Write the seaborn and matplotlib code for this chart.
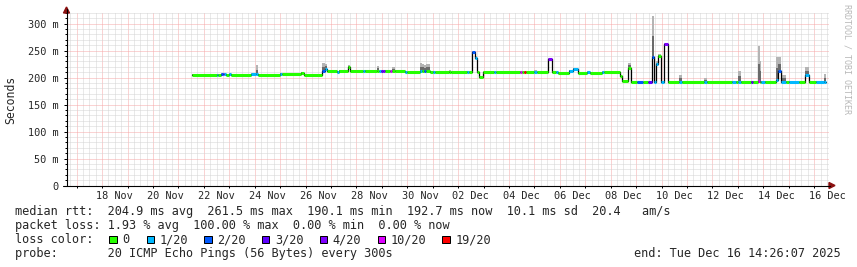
import numpy as np
import pandas as pd
import matplotlib
matplotlib.use("Agg")
import matplotlib.pyplot as plt
import matplotlib.dates as mdates
from matplotlib.ticker import MultipleLocator, FuncFormatter
from matplotlib.patches import Rectangle, Polygon
from matplotlib.lines import Line2D
import seaborn as sns

# ---------------- data ----------------
sample_time = [
    "2025-11-21 13:00", "2025-11-22 12:00", "2025-11-22 13:00", "2025-11-22 16:30",
    "2025-11-22 18:00", "2025-11-22 19:00", "2025-11-22 21:00", "2025-11-23 00:00",
    "2025-11-23 02:00", "2025-11-23 21:00", "2025-11-24 01:00", "2025-11-24 03:00",
    "2025-11-25 00:00", "2025-11-25 02:00", "2025-11-25 20:00", "2025-11-25 23:00",
    "2025-11-26 16:00", "2025-11-26 18:00", "2025-11-26 20:00", "2025-11-27 06:00",
    "2025-11-27 08:00", "2025-11-27 16:00", "2025-11-27 18:00", "2025-11-28 06:00",
    "2025-11-28 08:00", "2025-11-28 19:00", "2025-11-28 21:00", "2025-11-28 23:00",
    "2025-11-29 01:00", "2025-11-29 03:00", "2025-11-29 08:00", "2025-11-29 10:00",
    "2025-11-29 12:00", "2025-11-29 22:00", "2025-11-30 00:00", "2025-11-30 12:00",
    "2025-11-30 14:00", "2025-11-30 16:00", "2025-11-30 18:00", "2025-11-30 21:00",
    "2025-12-01 00:00", "2025-12-01 02:00", "2025-12-01 15:00", "2025-12-01 17:00",
    "2025-12-02 08:00", "2025-12-02 10:00", "2025-12-02 13:30", "2025-12-02 15:30",
    "2025-12-02 18:00", "2025-12-02 20:00", "2025-12-02 23:00", "2025-12-03 10:00",
    "2025-12-03 12:00", "2025-12-04 10:00", "2025-12-04 12:00", "2025-12-04 14:00",
    "2025-12-04 16:00", "2025-12-05 00:00", "2025-12-05 02:00", "2025-12-05 13:00",
    "2025-12-05 17:00", "2025-12-05 20:00", "2025-12-05 22:00", "2025-12-06 09:00",
    "2025-12-06 12:00", "2025-12-06 17:00", "2025-12-07 02:00", "2025-12-07 04:00",
    "2025-12-07 16:00", "2025-12-07 18:00", "2025-12-08 09:00", "2025-12-08 11:00",
    "2025-12-08 16:00", "2025-12-08 19:00", "2025-12-09 01:00", "2025-12-09 06:00",
    "2025-12-09 11:00", "2025-12-09 14:30", "2025-12-09 17:00", "2025-12-09 19:00",
    "2025-12-09 21:00", "2025-12-09 23:30", "2025-12-10 02:00", "2025-12-10 06:00",
    "2025-12-10 16:00", "2025-12-10 19:00", "2025-12-11 16:00", "2025-12-11 19:00",
    "2025-12-12 18:00", "2025-12-12 22:00", "2025-12-13 00:00", "2025-12-13 03:00",
    "2025-12-13 12:00", "2025-12-13 14:00", "2025-12-13 18:30", "2025-12-13 21:00",
    "2025-12-13 22:00", "2025-12-14 02:00", "2025-12-14 12:00", "2025-12-14 14:00",
    "2025-12-14 17:00", "2025-12-14 21:00", "2025-12-15 00:00", "2025-12-15 10:00",
    "2025-12-15 15:30", "2025-12-15 19:00", "2025-12-16 02:00", "2025-12-16 09:00",
]
median_ms = [
    205, 205, 205, 206, 206, 206, 205, 206, 205, 206, 206, 205,
    207, 206, 209, 204, 213, 216, 213, 211, 213, 219, 213, 212,
    213, 213, 212, 212, 212, 213, 212, 213, 213, 211, 210, 213,
    212, 212, 213, 211, 211, 210, 210, 210, 211, 210, 247, 237,
    210, 201, 210, 210, 210, 210, 210, 210, 210, 211, 210, 234,
    210, 210, 209, 213, 216, 209, 210, 209, 210, 210, 203, 193,
    218, 192, 191, 191, 191, 238, 191, 226, 241, 192, 262, 192,
    192, 192, 192, 192, 192, 192, 192, 192, 192, 192, 193, 192,
    192, 192, 195, 213, 192, 192, 192, 191, 204, 192, 192, 192,
]
loss_pings = [
    0, 1, 0, 2, 3, 1, 0, 1, 0, 1, 1, 0,
    1, 0, 0, 0, 2, 1, 0, 1, 0, 0, 0, 1,
    0, 0, 1, 3, 4, 0, 10, 0, 0, 1, 0, 1,
    0, 2, 0, 0, 1, 0, 0, 0, 1, 0, 2, 1,
    0, 0, 0, 1, 0, 10, 0, 19, 0, 1, 0, 4,
    0, 1, 0, 1, 1, 0, 1, 0, 1, 0, 0, 0,
    0, 0, 2, 0, 3, 2, 1, 1, 0, 1, 4, 0,
    1, 0, 1, 0, 1, 0, 1, 0, 3, 0, 10, 0,
    1, 0, 1, 2, 1, 0, 1, 0, 1, 0, 1, 1,
]
smoke_max_ms = [
    207, 207, 207, 208, 208, 208, 207, 208, 207, 208, 224, 207,
    209, 208, 211, 206, 228, 226, 215, 213, 215, 224, 215, 214,
    215, 222, 214, 214, 214, 215, 214, 220, 215, 213, 212, 228,
    226, 224, 226, 213, 213, 212, 214, 212, 213, 212, 249, 240,
    212, 203, 212, 212, 212, 212, 212, 212, 212, 214, 212, 236,
    212, 212, 211, 215, 218, 211, 212, 211, 212, 212, 205, 195,
    228, 194, 193, 193, 193, 315, 193, 230, 243, 194, 264, 194,
    205, 194, 200, 194, 194, 194, 213, 194, 194, 194, 259, 231,
    194, 194, 239, 239, 205, 194, 194, 193, 219, 194, 194, 207,
]
data_end = "2025-12-16 11:00"
view_start = "2025-11-16 14:26:07"
view_end = "2025-12-16 14:26:07"

assert len(sample_time) == len(median_ms) == len(loss_pings) == len(smoke_max_ms)

loss_levels = [0, 1, 2, 3, 4, 10, 19]
loss_labels = ["0", "1/20", "2/20", "3/20", "4/20", "10/20", "19/20"]
loss_colors = ["#26ff00", "#00b8ff", "#0059ff", "#5e00ff", "#7e00ff", "#dd00ff", "#ff0000"]

date_labels = pd.date_range("2025-11-18 12:00", "2025-12-16 12:00", freq="2D")
date_label_text = [d.strftime("%d %b") for d in date_labels]

legend_rtt = "median rtt:  204.9 ms avg  261.5 ms max  190.1 ms min  192.7 ms now  10.1 ms sd  20.4   am/s"
legend_loss = "packet loss: 1.93 % avg  100.00 % max  0.00 % min  0.00 % now"
legend_probe = "probe:       20 ICMP Echo Pings (56 Bytes) every 300s"
legend_end = "end: Tue Dec 16 14:26:07 2025"

# ---------------- style ----------------
sns.set_style("white")
plt.rcParams["font.family"] = ["DejaVu Sans Mono"]
MONO = "DejaVu Sans Mono"

W, H = 857, 267
def fx(px):
    return px / W
def fy(py):
    return 1 - py / H

fig = plt.figure(figsize=(W / 100, H / 100), dpi=100, facecolor="white")
AX_L, AX_R, AX_T, AX_B = 66.5, 829.5, 12.9, 185.5
ax = fig.add_axes([fx(AX_L), fy(AX_B), (AX_R - AX_L) / W, (AX_B - AX_T) / H])
ax.set_facecolor("white")

# ---------------- data prep ----------------
t = mdates.date2num(pd.to_datetime(sample_time).to_numpy())
t_end = mdates.date2num(pd.to_datetime([data_end]).to_numpy())[0]
t_next = np.append(t[1:], t_end)
med = np.array(median_ms, dtype=float)
smk = np.array(smoke_max_ms, dtype=float)
cmap = dict(zip(loss_levels, loss_colors))
seg_colors = [cmap[l] for l in loss_pings]

xs = np.append(t, t_end)
med_s = np.append(med, med[-1])
smk_s = np.append(smk, smk[-1])

# smoke
ax.fill_between(xs, med_s, smk_s, step="post", color="#b4b4b4", lw=0, zorder=2)
ax.fill_between(xs, med_s, med_s + (smk_s - med_s) * 0.5, step="post",
                color="#6a6a6a", lw=0, zorder=2)

# thin black median connector (seaborn)
line_df = pd.DataFrame({"t": xs, "rtt": med_s})
sns.lineplot(data=line_df, x="t", y="rtt", ax=ax, color="black", lw=0.9,
             drawstyle="steps-post", estimator=None, sort=False, zorder=3)

# loss-coloured median
ax.hlines(med, t, t_next, colors=seg_colors, lw=2.2, zorder=4)

# ---------------- axes ----------------
ax.set_xlim(mdates.date2num(pd.Timestamp(view_start)), mdates.date2num(pd.Timestamp(view_end)))
ax.set_ylim(0, 320)
ax.set_xlabel("")
ax.set_ylabel("")

ax.xaxis.set_major_locator(mdates.DayLocator())
ax.xaxis.set_minor_locator(mdates.HourLocator(byhour=[6, 12, 18]))
ax.yaxis.set_major_locator(MultipleLocator(50))
ax.yaxis.set_minor_locator(MultipleLocator(10))
ax.yaxis.set_major_formatter(FuncFormatter(lambda v, p: "0" if v == 0 else f"{int(v)} m"))

ax.set_axisbelow(True)
ax.grid(which="minor", color="#d4d4d4", ls=(0, (1, 1)), lw=0.72)
ax.grid(which="major", color="#f6a8a8", ls=(0, (1, 1)), lw=0.72)

for s in ax.spines.values():
    s.set_visible(False)

ax.tick_params(axis="x", which="both", labelbottom=False, direction="out",
               width=0.72, color="black")
ax.tick_params(axis="x", which="major", length=1.5, bottom=True)
ax.tick_params(axis="x", which="minor", length=0, bottom=False)
ax.tick_params(axis="y", which="major", direction="out", length=2.5, width=0.72,
               color="black", labelsize=7.4, pad=3.3, left=True)
ax.tick_params(axis="y", which="minor", direction="out", length=1.1, width=0.72,
               color="black", left=True)

secax = ax.secondary_xaxis("bottom")
secax.set_xticks(mdates.date2num(date_labels.to_numpy()), labels=date_label_text)
secax.tick_params(length=0, pad=3.7, labelsize=7.4)
for s in secax.spines.values():
    s.set_visible(False)

# axis lines and arrows
fig.add_artist(Line2D([fx(66.5), fx(66.5)], [fy(185.5), fy(9)], color="black",
                      lw=0.8, transform=fig.transFigure))
fig.add_artist(Line2D([fx(62.5), fx(830)], [fy(185.5), fy(185.5)], color="black",
                      lw=0.8, transform=fig.transFigure))
fig.add_artist(Polygon([(fx(63.5), fy(13)), (fx(69.5), fy(13)), (fx(66.5), fy(7))],
                       closed=True, color="#8b1010", transform=fig.transFigure))
fig.add_artist(Polygon([(fx(829), fy(182.5)), (fx(829), fy(188.5)), (fx(835), fy(185.5))],
                       closed=True, color="#8b1010", transform=fig.transFigure))

# labels
fig.text(fx(10.8), fy(99.5), "Seconds", rotation=90, ha="center", va="center",
         fontsize=8.3, family=MONO)
fig.text(fx(847.5), fy(4.5), "RRDTOOL / TOBI OETIKER", rotation=-90, ha="center",
         va="top", fontsize=6.0, family=MONO, color="#b8b8b8")

# legend
LX = 15.0
fig.text(fx(LX), fy(215.3), legend_rtt, fontsize=8.54, family=MONO, va="baseline")
fig.text(fx(LX), fy(229.3), legend_loss, fontsize=8.54, family=MONO, va="baseline")
fig.text(fx(LX), fy(243.3), "loss color:", fontsize=8.54, family=MONO, va="baseline")
box_left = [109, 146.5, 204, 261.5, 319.5, 377.5, 442.5]
for bx, lab, col in zip(box_left, loss_labels, loss_colors):
    fig.add_artist(Rectangle((fx(bx), fy(243)), 7.5 / W, 7.5 / H, facecolor=col,
                             edgecolor="black", lw=0.72, transform=fig.transFigure))
    fig.text(fx(bx + 13.3), fy(243.3), lab, fontsize=8.54, family=MONO, va="baseline")
fig.text(fx(LX), fy(257.3), legend_probe, fontsize=8.54, family=MONO, va="baseline")
fig.text(fx(841), fy(257.3), legend_end, fontsize=8.54, family=MONO, va="baseline", ha="right")

fig.savefig("out.png", dpi=100, facecolor="white")
